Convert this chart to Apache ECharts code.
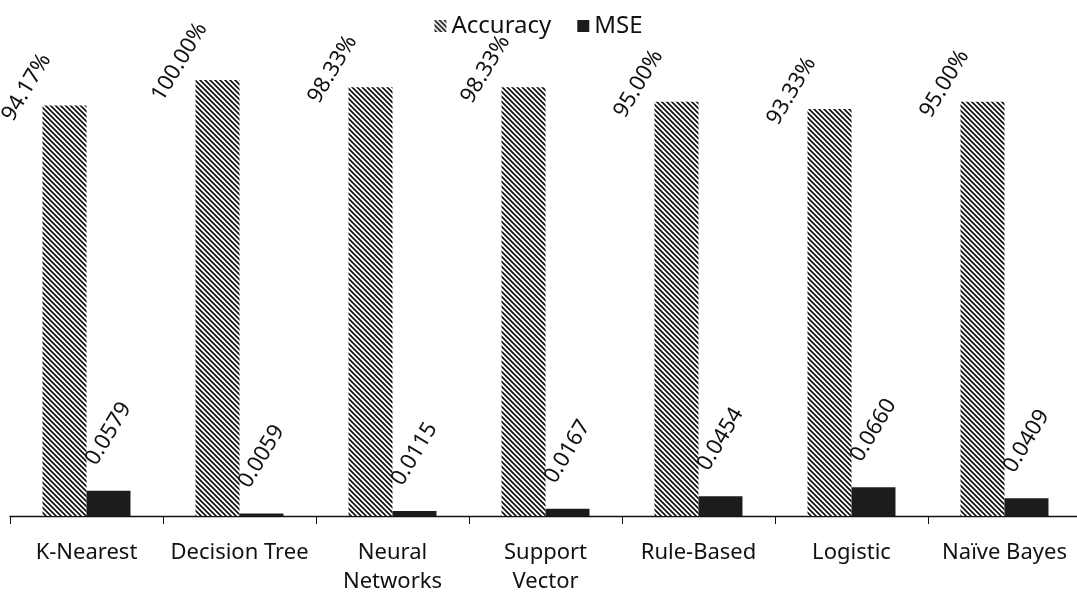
<!DOCTYPE html>
<html>
<head>
<meta charset="utf-8">
<script src="https://cdn.jsdelivr.net/npm/echarts@6/dist/echarts.min.js"></script>
<style>
html,body{margin:0;padding:0;background:#fff;}
#chart{width:1077px;height:592px;}
</style>
</head>
<body>
<div id="chart"></div>
<script>
const categories = ['K-Nearest', 'Decision Tree', 'Neural\nNetworks', 'Support\nVector', 'Rule-Based', 'Logistic', 'Naïve Bayes'];
const accuracy = [0.9417, 1.0000, 0.9833, 0.9833, 0.9500, 0.9333, 0.9500];
const mse = [0.0579, 0.0059, 0.0115, 0.0167, 0.0454, 0.0660, 0.0409];

function hatch() {
  const n = 5;
  const c = document.createElement('canvas');
  c.width = n; c.height = n;
  const ctx = c.getContext('2d');
  ctx.fillStyle = '#fff';
  ctx.fillRect(0, 0, n, n);
  ctx.strokeStyle = '#111';
  ctx.lineWidth = 1.7;
  ctx.beginPath();
  ctx.moveTo(-1, -1); ctx.lineTo(n + 1, n + 1);
  ctx.moveTo(-1, n - 1); ctx.lineTo(1, n + 1);
  ctx.moveTo(n - 1, -1); ctx.lineTo(n + 1, 1);
  ctx.stroke();
  return c;
}
const pattern = { image: hatch(), repeat: 'repeat' };
const FONT = 'Noto Sans';
const ROT = 59;
// convert a screen-space shift into the rotated label's local frame
function localOffset(sx, sy) {
  const t = ROT * Math.PI / 180, c = Math.cos(t), s = Math.sin(t);
  return [sx * c - sy * s, sx * s + sy * c];
}

const chart = echarts.init(document.getElementById('chart'), null, { renderer: 'canvas' });
chart.setOption({
  animation: false,
  backgroundColor: '#fff',
  textStyle: { fontFamily: FONT },
  legend: {
    top: 9, left: 'center',
    itemWidth: 12, itemHeight: 12, itemGap: 26,
    icon: 'rect',
    textStyle: { fontSize: 24, color: '#111', fontFamily: FONT },
    data: ['Accuracy', 'MSE']
  },
  grid: { left: 10, width: 1071, top: 80, bottom: 76, containLabel: false, outerBoundsMode: 'none' },
  xAxis: {
    type: 'category',
    data: categories,
    axisLine: { lineStyle: { color: '#111', width: 1.3 } },
    axisTick: { show: true, length: 8, lineStyle: { color: '#111' } },
    axisLabel: { fontSize: 22, color: '#111', margin: 22, lineHeight: 29, fontFamily: FONT, interval: 0 }
  },
  yAxis: {
    type: 'value', min: 0, max: 1, show: false,
    splitLine: { show: false }
  },
  series: [
    {
      name: 'Accuracy', type: 'bar', data: accuracy,
      barGap: '0%', barCategoryGap: '42.5%',
      itemStyle: { color: pattern },
      label: {
        show: true, position: 'top', distance: 0, rotate: ROT,
        align: 'center', verticalAlign: 'middle', offset: localOffset(-38, -18),
        fontSize: 22, color: '#111', fontFamily: FONT,
        formatter: p => (p.value * 100).toFixed(2) + '%'
      }
    },
    {
      name: 'MSE', type: 'bar', data: mse,
      itemStyle: { color: '#1c1c1c' },
      label: {
        show: true, position: 'top', distance: 0, rotate: ROT,
        align: 'center', verticalAlign: 'middle', offset: localOffset(0, -57),
        fontSize: 22, color: '#111', fontFamily: FONT,
        formatter: p => p.value.toFixed(4)
      }
    }
  ]
});
</script>
</body>
</html>
